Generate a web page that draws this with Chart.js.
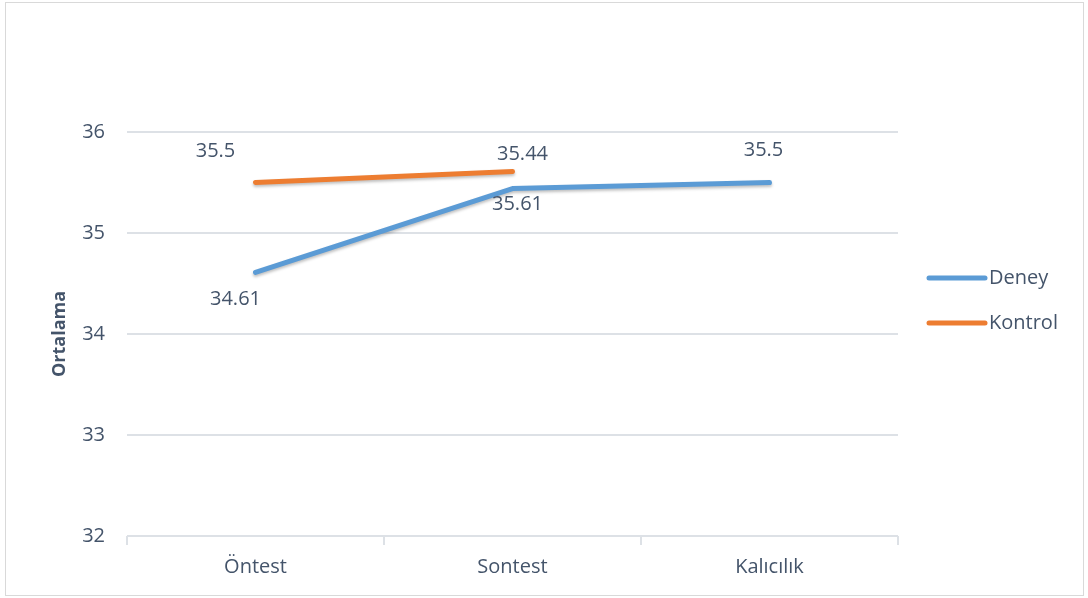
<!DOCTYPE html>
<html>
<head>
<meta charset="utf-8">
<script src="https://cdn.jsdelivr.net/npm/chart.js@4/dist/chart.umd.min.js"></script>
<style>
    html, body { margin: 0; padding: 0; background: #ffffff; }
    #wrap { position: relative; width: 1088px; height: 598px; }
</style>
</head>
<body>
<div id="wrap"><canvas id="chart" width="1088" height="598"></canvas></div>
<script>
const categories = ["Öntest", "Sontest", "Kalıcılık"];
const deneyValues = [34.61, 35.44, 35.5];
const kontrolValues = [35.5, 35.61];
// value labels as printed on the original chart
const deneyLabels = ["34.61", "35.61", "35.5"];
const kontrolLabels = ["35.5", "35.44"];
const yTicks = [32, 33, 34, 35, 36];

const textColor = "#44546a";
const gridColor = "#dde1e6";
const font = "'Open Sans', sans-serif";

// label offsets from the point (px)
const labelOffsets = [
    [[-20, 27], [5, 16], [-6, -32]],
    [[-40, -31], [10, -17]],
];

// soft shadow under the lines only
const lineShadow = {
    id: "lineShadow",
    beforeDatasetsDraw(chart) {
        const ctx = chart.ctx;
        ctx.save();
        ctx.shadowColor = "rgba(0,0,0,0.25)";
        ctx.shadowBlur = 3;
        ctx.shadowOffsetY = 2;
    },
    afterDatasetsDraw(chart) {
        chart.ctx.restore();
    },
};

const valueLabels = {
    id: "valueLabels",
    afterDatasetsDraw(chart) {
        const ctx = chart.ctx;
        const texts = [deneyLabels, kontrolLabels];
        ctx.save();
        ctx.font = "20px " + font;
        ctx.fillStyle = textColor;
        ctx.textAlign = "center";
        ctx.textBaseline = "middle";
        chart.data.datasets.forEach((ds, di) => {
            const meta = chart.getDatasetMeta(di);
            meta.data.forEach((pt, i) => {
                const off = labelOffsets[di][i];
                ctx.fillText(texts[di][i], pt.x + off[0], pt.y + off[1]);
            });
        });
        ctx.restore();
    },
};

const legendAndFrame = {
    id: "legendAndFrame",
    afterDraw(chart) {
        const ctx = chart.ctx;
        ctx.save();
        // frame
        ctx.strokeStyle = "#d9d9d9";
        ctx.lineWidth = 1;
        ctx.strokeRect(5.5, 2.5, 1078, 593);
        // legend
        const x0 = 929, x1 = 985;
        const ys = [278, 323];
        chart.data.datasets.forEach((ds, i) => {
            ctx.strokeStyle = ds.borderColor;
            ctx.lineWidth = 5;
            ctx.lineCap = "round";
            ctx.beginPath();
            ctx.moveTo(x0, ys[i]);
            ctx.lineTo(x1, ys[i]);
            ctx.stroke();
            ctx.fillStyle = textColor;
            ctx.font = "20px " + font;
            ctx.textAlign = "left";
            ctx.textBaseline = "middle";
            ctx.fillText(ds.label, x1 + 4, ys[i]);
        });
        ctx.restore();
    },
};

new Chart(document.getElementById("chart").getContext("2d"), {
    type: "line",
    data: {
        labels: categories,
        datasets: [
            {
                label: "Deney",
                data: deneyValues,
                borderColor: "#5b9bd5",
                borderWidth: 5,
                borderCapStyle: "round",
                borderJoinStyle: "round",
                pointRadius: 0,
                tension: 0,
                fill: false,
            },
            {
                label: "Kontrol",
                data: kontrolValues,
                borderColor: "#ed7d31",
                borderWidth: 5,
                borderCapStyle: "round",
                borderJoinStyle: "round",
                pointRadius: 0,
                tension: 0,
                fill: false,
            },
        ],
    },
    options: {
        responsive: false,
        animation: false,
        devicePixelRatio: 1,
        layout: { padding: { top: 132, right: 190, bottom: 12, left: 45 } },
        plugins: {
            legend: { display: false },
            tooltip: { enabled: false },
        },
        scales: {
            x: {
                offset: true,
                grid: {
                    offset: true,
                    drawOnChartArea: false,
                    drawTicks: true,
                    tickLength: 9,
                    color: gridColor,
                    lineWidth: 2,
                },
                border: { display: false },
                ticks: {
                    color: textColor,
                    font: { family: font, size: 20 },
                    padding: 10,
                },
                afterFit: (s) => { s.height = 50; },
            },
            y: {
                min: 32,
                max: 36,
                afterBuildTicks: (s) => { s.ticks = yTicks.map((v) => ({ value: v })); },
                grid: { color: gridColor, lineWidth: 2, drawTicks: false },
                border: { display: false },
                ticks: {
                    color: textColor,
                    font: { family: font, size: 20 },
                    padding: 22,
                },
                title: {
                    display: true,
                    text: "Ortalama",
                    color: textColor,
                    font: { family: font, size: 18, weight: "bold" },
                    padding: 4,
                },
                afterFit: (s) => { s.width = 82; },
            },
        },
    },
    plugins: [lineShadow, valueLabels, legendAndFrame],
});
</script>
</body>
</html>
